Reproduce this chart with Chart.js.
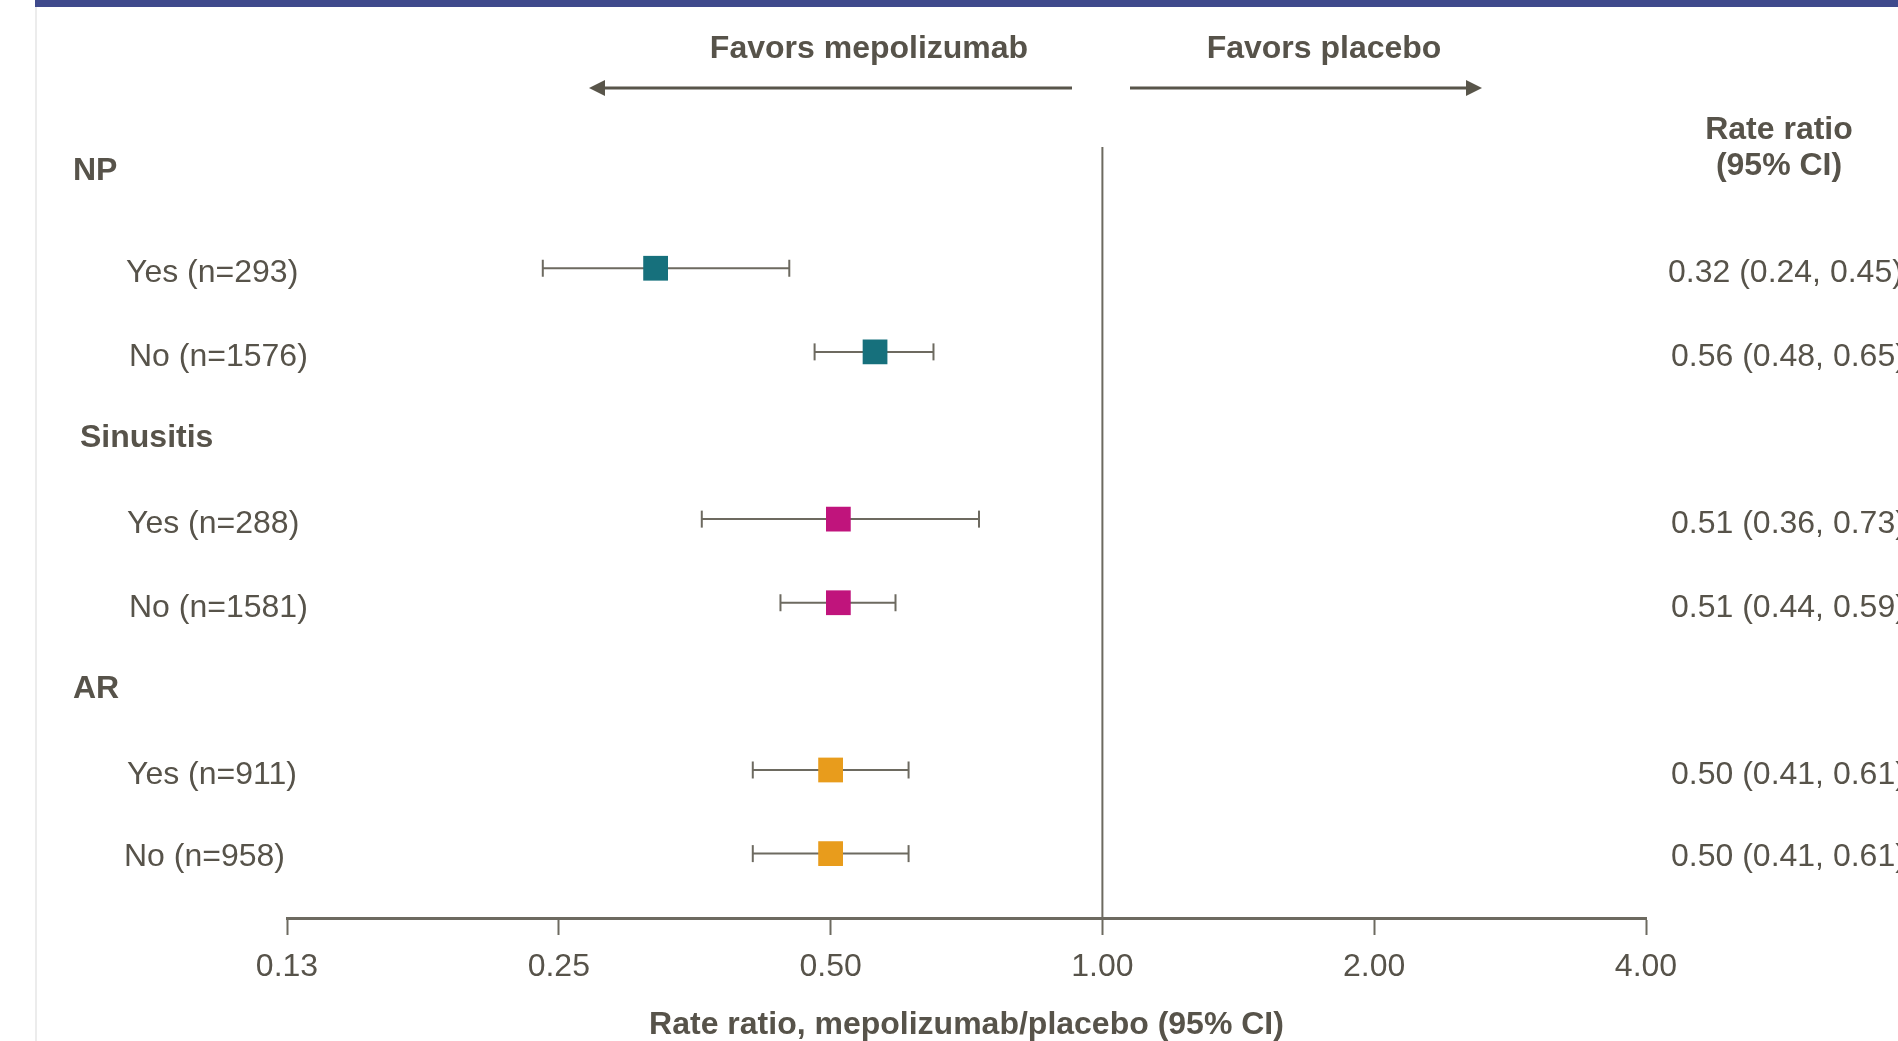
<!DOCTYPE html>
<html>
<head>
<meta charset="utf-8">
<script src="https://cdn.jsdelivr.net/npm/chart.js@4.4.1/dist/chart.umd.min.js"></script>
<style>
  html, body { margin: 0; padding: 0; background: #fff; }
  #forest { display: block; }
</style>
</head>
<body>
<canvas id="forest" width="1898" height="1041"></canvas>
<script>
// Données
const groups = ['NP', 'Sinusitis', 'AR'];
const subgroups = ['Yes (n=293)', 'No (n=1576)', 'Yes (n=288)', 'No (n=1581)', 'Yes (n=911)', 'No (n=958)'];
const subgroupGroup = [0, 0, 1, 1, 2, 2];
const rateRatio = [0.32, 0.56, 0.51, 0.51, 0.50, 0.50];
const ciLow = [0.24, 0.48, 0.36, 0.44, 0.41, 0.41];
const ciHigh = [0.45, 0.65, 0.73, 0.59, 0.61, 0.61];
const xTicks = [0.125, 0.25, 0.5, 1, 2, 4];

// Styles
const textColor = '#57534a';
const lineColor = '#6d6a60';
const groupColors = ['#16707c', '#c0147c', '#e89c1c'];
const fontFamily = "'Liberation Sans', Arial, sans-serif";
const groupIndent = [73, 80, 73];
const subIndent = [126, 129, 127, 129, 127, 124];

Chart.defaults.font.family = fontFamily;
Chart.defaults.color = textColor;

// Lignes : chaque groupe suivi de ses sous-groupes
const groupRow = [];
const subRow = [];
let row = 0;
groups.forEach((g, gi) => {
  groupRow.push(row++);
  subgroups.forEach((s, si) => {
    if (subgroupGroup[si] === gi) subRow.push(row++);
  });
});
const rowCount = row;

// Moustaches (IC), séparées par des trous
const ciData = [];
subgroups.forEach((s, i) => {
  ciData.push({ x: ciLow[i], y: subRow[i] });
  ciData.push({ x: ciHigh[i], y: subRow[i] });
  ciData.push({ x: ciHigh[i], y: null });
});

const markerData = subgroups.map((s, i) => ({ x: rateRatio[i], y: subRow[i] }));
const markerColors = subgroups.map((s, i) => groupColors[subgroupGroup[i]]);

const yMin = -0.45;
const yMax = rowCount - 0.23;

function arrow(ctx, x1, x2, y) {
  const dir = x2 > x1 ? 1 : -1;
  ctx.beginPath();
  ctx.moveTo(x1, y);
  ctx.lineTo(x2 - dir * 10, y);
  ctx.stroke();
  ctx.beginPath();
  ctx.moveTo(x2, y);
  ctx.lineTo(x2 - dir * 16, y - 8);
  ctx.lineTo(x2 - dir * 16, y + 8);
  ctx.closePath();
  ctx.fill();
}

const decorPlugin = {
  id: 'decor',
  beforeDraw(chart) {
    const ctx = chart.ctx;
    ctx.save();
    ctx.fillStyle = '#fff';
    ctx.fillRect(0, 0, chart.width, chart.height);
    ctx.fillStyle = '#ececec';
    ctx.fillRect(35, 0, 2, chart.height);
    ctx.fillStyle = '#3f4a8c';
    ctx.fillRect(35, 0, chart.width - 35, 7);
    ctx.restore();
  },
  afterDraw(chart) {
    const ctx = chart.ctx;
    const y = chart.scales.y;
    ctx.save();
    ctx.fillStyle = textColor;
    ctx.textBaseline = 'alphabetic';

    // En-têtes de groupe
    ctx.font = `bold 32px ${fontFamily}`;
    ctx.textAlign = 'left';
    groups.forEach((g, gi) => {
      const off = gi === 0 ? -5 : 12;
      ctx.fillText(g, groupIndent[gi], y.getPixelForValue(groupRow[gi]) + off);
    });

    // Sous-groupes et valeurs
    ctx.font = `32px ${fontFamily}`;
    subgroups.forEach((s, i) => {
      const py = y.getPixelForValue(subRow[i]) + (i === 5 ? 12 : 14);
      ctx.textAlign = 'left';
      ctx.fillText(s, subIndent[i], py);
      const txt = `${rateRatio[i].toFixed(2)} (${ciLow[i].toFixed(2)}, ${ciHigh[i].toFixed(2)})`;
      ctx.fillText(txt, i === 0 ? 1668 : 1671, py);
    });

    // Colonne de droite
    ctx.font = `bold 32px ${fontFamily}`;
    ctx.textAlign = 'center';
    ctx.fillText('Rate ratio', 1779, 139);
    ctx.fillText('(95% CI)', 1779, 175);

    // Flèches
    ctx.fillText('Favors mepolizumab', 869, 58);
    ctx.fillText('Favors placebo', 1324, 58);
    ctx.strokeStyle = '#58554a';
    ctx.fillStyle = '#58554a';
    ctx.lineWidth = 3;
    arrow(ctx, 1072, 589, 88);
    arrow(ctx, 1130, 1482, 88);
    ctx.restore();
  }
};

new Chart(document.getElementById('forest'), {
  type: 'scatter',
  data: {
    datasets: [
      {
        label: 'Rate ratio',
        data: markerData,
        pointStyle: 'rect',
        pointRadius: 17.5,
        pointHoverRadius: 17.5,
        backgroundColor: markerColors,
        borderWidth: 0,
        order: 0
      },
      {
        label: '95% CI',
        data: ciData,
        showLine: true,
        spanGaps: false,
        borderColor: lineColor,
        borderWidth: 2,
        pointStyle: 'line',
        pointRotation: 90,
        pointRadius: 8.5,
        pointHoverRadius: 8.5,
        pointBorderColor: lineColor,
        pointBorderWidth: 2,
        order: 1
      },
      {
        label: 'Reference',
        data: [{ x: 1, y: yMin }, { x: 1, y: yMax }],
        showLine: true,
        borderColor: lineColor,
        borderWidth: 2,
        pointRadius: 0,
        clip: false,
        order: 2
      }
    ]
  },
  options: {
    responsive: false,
    animation: false,
    events: [],
    layout: { padding: { left: 287, right: 252, top: 147, bottom: 0 } },
    plugins: {
      legend: { display: false },
      tooltip: { enabled: false }
    },
    scales: {
      x: {
        type: 'logarithmic',
        min: 0.125,
        max: 4,
        afterBuildTicks: s => { s.ticks = xTicks.map(v => ({ value: v })); },
        afterFit: s => { s.height = 123; },
        border: { display: true, color: lineColor, width: 3 },
        grid: { drawOnChartArea: false, drawTicks: true, tickLength: 17, tickWidth: 2, tickColor: lineColor },
        ticks: {
          autoSkip: false,
          maxRotation: 0,
          padding: 13,
          color: textColor,
          font: { size: 32 },
          callback: v => Number(v).toFixed(2)
        },
        title: {
          display: true,
          text: 'Rate ratio, mepolizumab/placebo (95% CI)',
          color: textColor,
          font: { size: 32, weight: 'bold', lineHeight: 1.0 },
          padding: 0
        }
      },
      y: {
        type: 'linear',
        display: false,
        reverse: true,
        min: yMin,
        max: yMax
      }
    }
  },
  plugins: [decorPlugin]
});
</script>
</body>
</html>
